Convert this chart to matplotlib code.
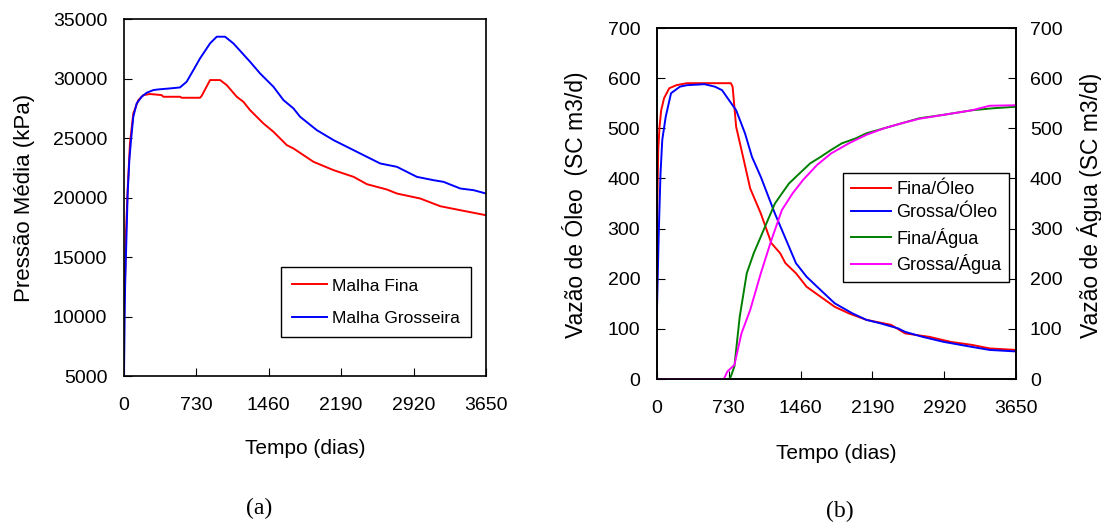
import numpy as np
import matplotlib
matplotlib.use("Agg")
import matplotlib.pyplot as plt

plt.rcParams['font.family'] = ['Liberation Sans', 'DejaVu Sans']
plt.rcParams['font.size'] = 14

# (a) pressao media
fina_dias = [0, 10, 20, 37, 60, 94, 145, 195, 262, 380, 397, 565, 582, 767, 784, 868, 969,
             1036, 1137, 1204, 1271, 1406, 1507, 1642, 1709, 1911, 2113, 2315, 2449, 2651,
             2752, 2987, 3189, 3391, 3650]
fina_pres = [12800, 12766, 17000, 20617, 24541, 27065, 28186, 28607, 28700, 28607, 28467, 28467,
             28383, 28383, 28550, 29870, 29870, 29448, 28467, 28046, 27345, 26224, 25524, 24402,
             24122, 23000, 22300, 21737, 21121, 20673, 20336, 19916, 19270, 18935, 18514]
gross_dias = [0, 7, 12, 27, 37, 54, 71, 94, 128, 178, 229, 296, 346, 464, 565, 632, 700, 767,
              868, 935, 1019, 1103, 1271, 1372, 1507, 1608, 1709, 1776, 1944, 2113, 2281, 2449,
              2584, 2752, 2953, 3121, 3222, 3391, 3525, 3650]
gross_pres = [5000, 9961, 12766, 17251, 20336, 23140, 24822, 26785, 27906, 28467, 28803, 29028,
              29084, 29168, 29252, 29729, 30710, 31692, 32953, 33514, 33514, 32953, 31411, 30430,
              29308, 28186, 27486, 26785, 25664, 24822, 24122, 23421, 22860, 22580, 21737, 21457,
              21317, 20757, 20617, 20336]

# (b) vazoes
fo_dias = [0, 4, 13, 26, 43, 72, 125, 197, 304, 751, 769, 805, 859, 948, 1056, 1163, 1252, 1306,
           1413, 1521, 1664, 1807, 1950, 2129, 2380, 2523, 2771, 2988, 3203, 3382, 3650]
fo_vaz = [138, 357, 457, 503, 536, 560, 580, 586, 590, 590, 583, 503, 457, 380, 330, 271, 251,
          231, 211, 184, 164, 144, 131, 118, 108, 91, 84, 74, 68, 61, 58]
go_dias = [0, 18, 36, 54, 89, 143, 233, 304, 483, 590, 662, 733, 805, 895, 966, 1056, 1199, 1342,
           1413, 1521, 1628, 1807, 1986, 2129, 2272, 2451, 2523, 2702, 2917, 3203, 3382, 3650]
go_vaz = [138, 290, 410, 477, 523, 570, 583, 586, 588, 583, 576, 556, 536, 490, 443, 403, 330, 264,
          231, 204, 184, 151, 131, 118, 111, 101, 94, 84, 74, 64, 58, 55]
fa_dias = [0, 733, 751, 787, 841, 913, 984, 1056, 1127, 1199, 1270, 1342, 1449, 1557, 1664, 1771,
           1879, 2022, 2129, 2487, 2666, 2917, 3203, 3417, 3650]
fa_vaz = [0, 0, 5, 25, 124, 211, 251, 284, 317, 350, 370, 390, 410, 430, 443, 457, 470, 480, 490,
          510, 520, 527, 536, 540, 543]
ga_dias = [0, 680, 716, 787, 859, 948, 1056, 1163, 1270, 1378, 1485, 1628, 1771, 1950, 2129, 2308,
           2487, 2666, 2917, 3203, 3382, 3650]
ga_vaz = [0, 0, 15, 28, 91, 138, 211, 277, 337, 370, 397, 427, 450, 470, 487, 500, 510, 519, 527,
          536, 545, 546]

xticks = [0, 730, 1460, 2190, 2920, 3650]
lw = 1.4
xl_size = 15
yl_size = 16

fig = plt.figure(figsize=(11.01, 5.24), dpi=100)

# ---- (a)
ax1 = fig.add_axes([0.1126, 0.2824, 0.3288, 0.6813])
ax1.plot(fina_dias, fina_pres, color='red', lw=lw, label='Malha Fina')
ax1.plot(gross_dias, gross_pres, color='blue', lw=lw, label='Malha Grosseira')
ax1.set_xlim(0, 3650)
ax1.set_ylim(5000, 35000)
ax1.set_xticks(xticks)
ax1.set_yticks(range(5000, 35001, 5000))
ax1.tick_params(axis='x', direction='in', length=6, pad=15)
ax1.tick_params(axis='y', direction='in', length=6, pad=12)
ax1.set_xlabel('Tempo (dias)', fontsize=xl_size)
ax1.xaxis.set_label_coords(0.5, -0.2017)
ax1.xaxis.label.set_va('center')
ax1.set_ylabel('Pressão Média (kPa)', fontsize=yl_size)
ax1.yaxis.set_label_coords(-0.276, 0.5)
ax1.yaxis.label.set_va('center')
leg1 = ax1.legend(loc='upper left', bbox_to_anchor=(0.434, 0.305), borderaxespad=0,
                  fancybox=False, edgecolor='black', framealpha=1, handlelength=2.0,
                  handletextpad=0.3, labelspacing=1.0, borderpad=0.65, fontsize=12.5)
leg1.get_frame().set_linewidth(1.0)
for s in ax1.spines.values():
    s.set_linewidth(1.2)

# ---- (b)
ax2 = fig.add_axes([0.5967, 0.2767, 0.3261, 0.6698])
l1, = ax2.plot(fo_dias, fo_vaz, color='red', lw=lw, label='Fina/Óleo')
l2, = ax2.plot(go_dias, go_vaz, color='blue', lw=lw, label='Grossa/Óleo')
ax3 = ax2.twinx()
l3, = ax3.plot(fa_dias, fa_vaz, color='green', lw=lw, label='Fina/Água')
l4, = ax3.plot(ga_dias, ga_vaz, color='magenta', lw=lw, label='Grossa/Água')
for a in (ax2, ax3):
    a.set_xlim(0, 3650)
    a.set_ylim(0, 700)
    a.set_yticks(range(0, 701, 100))
ax2.set_xticks(xticks)
ax2.tick_params(axis='x', direction='in', length=6, pad=15)
ax2.tick_params(axis='y', direction='in', length=6, pad=12)
ax3.tick_params(axis='y', direction='in', length=6, pad=10)
ax2.set_xlabel('Tempo (dias)', fontsize=xl_size)
ax2.xaxis.set_label_coords(0.5, -0.211)
ax2.xaxis.label.set_va('center')
ax2.set_ylabel('Vazão de Óleo  (SC m3/d)', fontsize=16.5)
ax2.yaxis.set_label_coords(-0.228, 0.496)
ax2.yaxis.label.set_va('center')
ax3.set_ylabel('Vazão de Água (SC m3/d)', fontsize=16.5)
ax3.yaxis.set_label_coords(1.206, 0.496)
ax3.yaxis.label.set_va('center')
leg2 = ax3.legend(handles=[l1, l2, l3, l4], loc='upper left', bbox_to_anchor=(0.518, 0.587),
                  borderaxespad=0, fancybox=False, edgecolor='black', framealpha=1,
                  handlelength=2.2, handletextpad=0.3, labelspacing=0.35, borderpad=0.45,
                  fontsize=13)
leg2.get_frame().set_linewidth(1.0)
for a in (ax2, ax3):
    for s in a.spines.values():
        s.set_linewidth(1.2)

fig.text(259 / 1101, 1 - 508 / 524, '(a)', family='Liberation Serif', fontsize=17,
         ha='center', va='center')
fig.text(840 / 1101, 1 - 511 / 524, '(b)', family='Liberation Serif', fontsize=17,
         ha='center', va='center')

fig.savefig('out.png', dpi=100)
